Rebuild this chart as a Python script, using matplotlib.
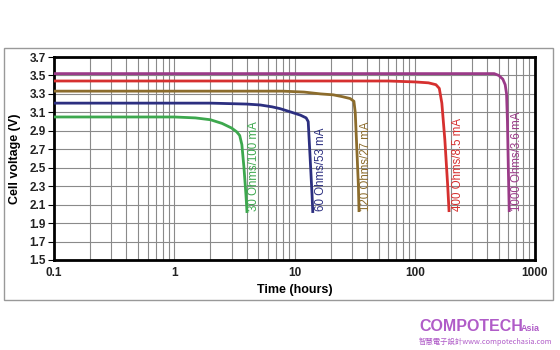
import matplotlib
matplotlib.use("Agg")
import matplotlib.pyplot as plt
from matplotlib.patches import Rectangle
from matplotlib.ticker import FixedLocator, LogLocator, NullFormatter

# ---- data ----
green_x = [0.1, 1.0, 1.5, 2.0, 2.5, 3.0, 3.3, 3.5, 3.65, 3.8, 3.95, 4.03]
green_y = [3.05, 3.05, 3.04, 3.02, 2.98, 2.93, 2.89, 2.85, 2.75, 2.50, 2.20, 2.01]
blue_x = [0.1, 2.0, 4.0, 5.2, 6.5, 7.6, 9.0, 11.2, 12.5, 13.0, 13.5, 14.0, 14.2]
blue_y = [3.20, 3.20, 3.19, 3.18, 3.16, 3.14, 3.11, 3.07, 3.04, 3.00, 2.60, 2.20, 2.01]
brown_x = [0.1, 8.0, 12.0, 16.5, 21.0, 25.0, 29.0, 31.2, 32.0, 33.0, 34.0, 34.4]
brown_y = [3.33, 3.33, 3.32, 3.30, 3.29, 3.27, 3.25, 3.22, 3.10, 2.70, 2.30, 2.02]
red_x = [0.1, 60.0, 100.0, 130.0, 150.0, 160.0, 168.0, 178.0, 188.0, 193.0]
red_y = [3.44, 3.44, 3.43, 3.42, 3.40, 3.36, 3.20, 2.80, 2.30, 2.02]
purple_x = [0.1, 400.0, 458.0, 500.0, 540.0, 565.0, 580.0, 590.0, 600.0, 611.0]
purple_y = [3.52, 3.52, 3.52, 3.50, 3.46, 3.40, 3.30, 3.00, 2.50, 2.02]

labels = ["30 Ohms/100 mA", "60 Ohms/53 mA", "120 Ohms/27 mA",
          "400 Ohms/8.5 mA", "1000 Ohms/3.6 mA"]
label_x = [4.6, 16.5, 39.0, 227.0, 708.0]
y_ticks = [1.5, 1.7, 1.9, 2.1, 2.3, 2.5, 2.7, 2.9, 3.1, 3.3, 3.5, 3.7]
x_ticks = [0.1, 1, 10, 100, 1000]
x_ticklabels = ["0.1", "1", "10", "100", "1000"]

colors = ["#3da84e", "#2c2f80", "#8c6c2c", "#d6302f", "#9a3a88"]

fig = plt.figure(figsize=(5.6, 3.5), dpi=100)
fig.patch.set_facecolor("white")

# outer frame
fig.add_artist(Rectangle((4 / 560, 1 - 300 / 350), 549 / 560, 252 / 350,
                         transform=fig.transFigure, fill=False,
                         edgecolor="#999999", linewidth=1.0))

ax = fig.add_axes([54 / 560, 1 - 260 / 350, 481 / 560, 203 / 350])
ax.set_xscale("log")
ax.set_xlim(0.1, 1000)
ax.set_ylim(1.5, 3.7)

ax.xaxis.set_major_locator(FixedLocator(x_ticks))
ax.xaxis.set_minor_locator(LogLocator(base=10, subs=range(2, 10)))
ax.xaxis.set_minor_formatter(NullFormatter())
ax.set_xticks(x_ticks)
ax.set_xticklabels(x_ticklabels)
ax.set_yticks(y_ticks)
ax.set_yticklabels([f"{v:.1f}" for v in y_ticks])

ax.grid(True, which="both", axis="x", color="#8a8a8a", linewidth=0.8)
ax.grid(True, which="major", axis="y", color="#8a8a8a", linewidth=0.8)
ax.set_axisbelow(True)

for s in ax.spines.values():
    s.set_linewidth(2.0)
    s.set_color("black")

ax.tick_params(axis="x", which="both", length=0, pad=5)
ax.tick_params(axis="y", which="major", length=4, width=0.8, pad=2)
for t in ax.get_xticklabels() + ax.get_yticklabels():
    t.set_fontfamily("Liberation Sans")
    t.set_fontweight("bold")
    t.set_fontsize(8.5)
    t.set_color("#222222")

series = [(green_x, green_y), (blue_x, blue_y), (brown_x, brown_y),
          (red_x, red_y), (purple_x, purple_y)]
for (xs, ys), c, lab, lx in zip(series, colors, labels, label_x):
    ax.plot(xs, ys, color=c, linewidth=2.0, solid_capstyle="butt",
            solid_joinstyle="round", zorder=3)
    ax.text(lx, 2.03, lab, rotation=90, color=c, fontsize=8.3,
            fontfamily="Liberation Sans", ha="center", va="bottom", zorder=4)

ax.set_xlabel("Time (hours)", fontsize=9, fontweight="bold",
              fontfamily="Liberation Sans", labelpad=4)
ax.set_ylabel("Cell voltage (V)", fontsize=9, fontweight="bold",
              fontfamily="Liberation Sans", labelpad=6)

# watermark
fig.text(419 / 560, 1 - 331 / 350, "COMPOTECH", color="#b05cc8",
         fontsize=11.5, fontweight="bold", fontfamily="Liberation Sans",
         ha="left", va="baseline")
fig.text(521 / 560, 1 - 331 / 350, "Asia", color="#b05cc8", fontsize=6.5,
         fontweight="bold", fontfamily="Liberation Sans",
         ha="left", va="baseline")
fig.text(419 / 560, 1 - 344 / 350, "智慧電子設計www.compotechasia.com",
         color="#b05cc8", fontsize=5.3,
         fontfamily=["Noto Sans CJK TC", "DejaVu Sans"],
         ha="left", va="baseline")

fig.savefig("out.png", dpi=100, facecolor="white")
